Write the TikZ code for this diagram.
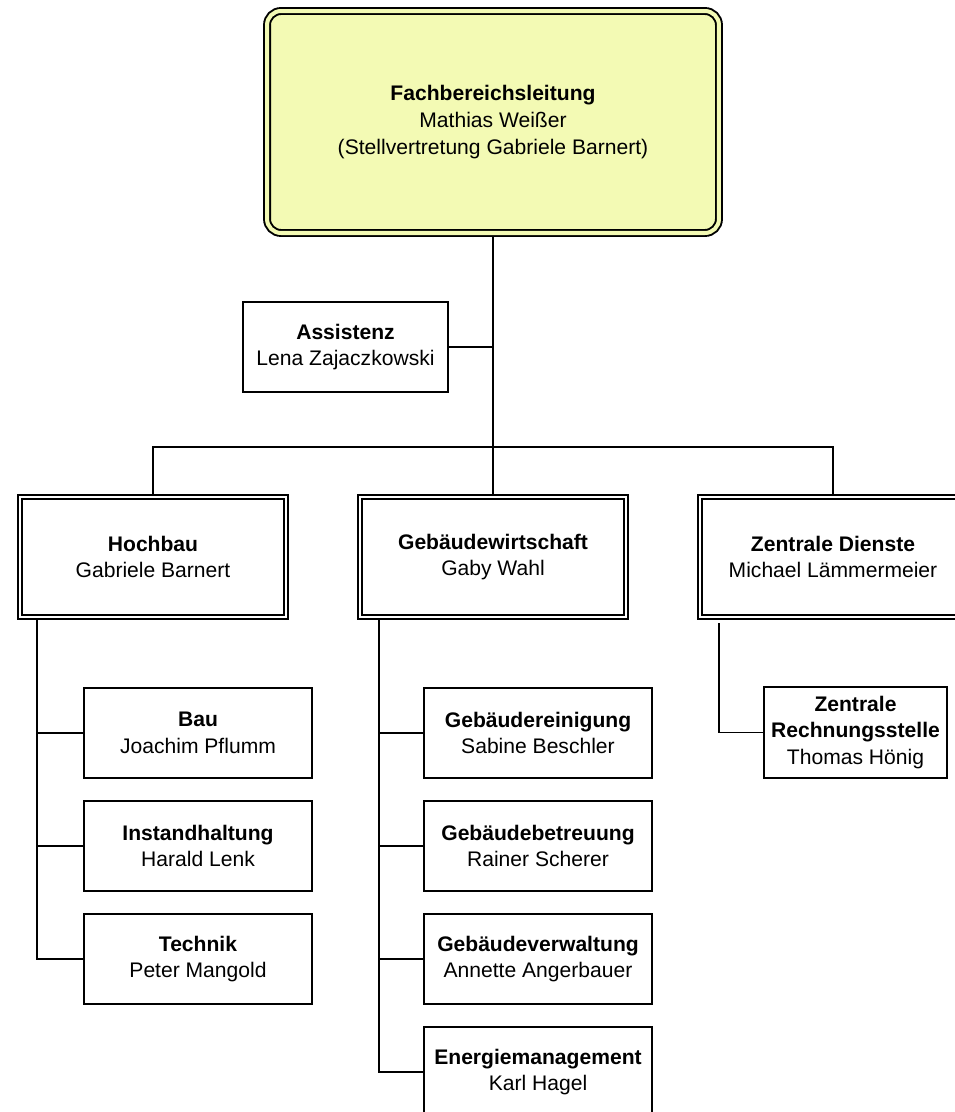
\documentclass[tikz,border=0pt]{standalone}
\usepackage{fontspec}
\setmainfont{Liberation Sans}
\usetikzlibrary{backgrounds}
\definecolor{leadyellow}{RGB}{243,250,180}
\tikzset{
    unitbox/.style={rectangle, draw, line width=0.7pt, fill=white, inner sep=0pt, minimum width=4.56cm, minimum height=1.8cm, align=center, font=\fontsize{12}{15.2}\selectfont},
    deptbox/.style={rectangle, draw, line width=0.8pt, double, double distance=1.4pt, fill=white, inner sep=0pt, minimum width=5.32cm, minimum height=2.4cm, align=center, font=\fontsize{12}{15.2}\selectfont},
    leadbox/.style={rectangle, draw, rounded corners=0.28cm, line width=1.1pt, double=leadyellow, double distance=2.3pt, fill=leadyellow, inner sep=0pt, minimum width=9.04cm, minimum height=4.44cm, align=center, font=\fontsize{12}{15.2}\selectfont},
    conn/.style={line width=0.7pt},
}
\begin{document}
\begin{tikzpicture}[x=0.02cm, y=-0.02cm]
    \useasboundingbox (0,0) rectangle (954,1112);
    \node[leadbox] (head) at (493,122) {\textbf{Fachbereichsleitung}\\Mathias Weißer\\(Stellvertretung Gabriele Barnert)};
    \node[unitbox, minimum width=4.1cm] (assist) at (345.5,347) {\textbf{Assistenz}\\Lena Zajaczkowski};
    \node[deptbox] (hoch) at (153,557) {\textbf{Hochbau}\\Gabriele Barnert};
    \node[deptbox] (gw) at (493,557) {\textbf{Gebäudewirtschaft}\\Gaby Wahl};
    \node[deptbox] (zd) at (833,557) {\textbf{Zentrale Dienste}\\Michael Lämmermeier};
    \node[unitbox] (bau) at (198,733) {\textbf{Bau}\\Joachim Pflumm};
    \node[unitbox] (inst) at (198,846) {\textbf{Instandhaltung}\\Harald Lenk};
    \node[unitbox] (tech) at (198,959) {\textbf{Technik}\\Peter Mangold};
    \node[unitbox] (reinig) at (538,733) {\textbf{Gebäudereinigung}\\Sabine Beschler};
    \node[unitbox] (betreu) at (538,846) {\textbf{Gebäudebetreuung}\\Rainer Scherer};
    \node[unitbox] (verw) at (538,959) {\textbf{Gebäudeverwaltung}\\Annette Angerbauer};
    \node[unitbox] (energie) at (538,1072) {\textbf{Energiemanagement}\\Karl Hagel};
    \node[unitbox, minimum width=3.66cm, minimum height=1.82cm] (rech) at (855.5,732.5) {\textbf{Zentrale}\\\textbf{Rechnungsstelle}\\Thomas Hönig};
    \coordinate (bar) at (493,447);
    \coordinate (hochtrunk) at (37,620);
    \coordinate (gwtrunk) at (379,620);
    \coordinate (zdtrunk) at (719,623);
    % connectors behind the boxes
    \begin{scope}[on background layer]
        \draw[conn] (head) -- (gw);
        \draw[conn] (assist) -- (assist -| head);
        \draw[conn] (hoch.north) |- (bar) -| (zd.north);
        \draw[conn] (hochtrunk) |- (tech.west);
        \draw[conn] (hochtrunk |- bau) -- (bau.west);
        \draw[conn] (hochtrunk |- inst) -- (inst.west);
        \draw[conn] (gwtrunk) |- (energie.west);
        \draw[conn] (gwtrunk |- reinig) -- (reinig.west);
        \draw[conn] (gwtrunk |- betreu) -- (betreu.west);
        \draw[conn] (gwtrunk |- verw) -- (verw.west);
        \draw[conn] (zdtrunk) |- (rech.west);
    \end{scope}
\end{tikzpicture}
\end{document}
